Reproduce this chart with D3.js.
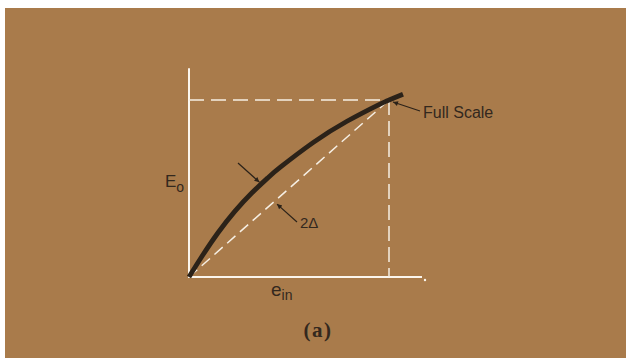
<!DOCTYPE html>
<html>
<head>
<meta charset="utf-8">
<script src="https://cdn.jsdelivr.net/npm/d3@7"></script>
<style>
    body { margin: 0; background: #fff; }
    svg { display: block; }
    .label { font-family: "Liberation Sans", Arial, sans-serif; fill: #33281e; }
</style>
</head>
<body>
<div id="chart"></div>
<script>
// Transfer curve (a): output E_o vs input e_in, full scale = 1
const curveX = [0, 0.065, 0.145, 0.23, 0.315, 0.395, 0.46, 0.62, 0.79, 0.955, 1.0, 1.07];
const curveY = [0, 0.117, 0.250, 0.372, 0.476, 0.561, 0.623, 0.759, 0.880, 0.977, 1.0, 1.032];

// ideal straight line and full-scale guides
const fullScale = [1, 1];
const axisMax = [1.165, 1.18];

// annotation arrows in data units (tail -> head)
const arrowNames = ['curve', 'delta', 'full'];
const arrowFrom = [[0.245, 0.644], [0.54, 0.311], [1.155, 0.938]];
const arrowTo = [[0.352, 0.536], [0.44, 0.412], [1.02, 0.989]];

const width = 626, height = 358;

const svg = d3.select('#chart')
    .append('svg')
    .attr('width', width)
    .attr('height', height);

// brown panel
svg.append('rect')
    .attr('x', 5)
    .attr('y', 8)
    .attr('width', width - 5)
    .attr('height', height - 8)
    .attr('fill', '#a97b4b');

const x = d3.scaleLinear().domain([0, 1]).range([189, 389]);
const y = d3.scaleLinear().domain([0, 1]).range([277, 100]);

svg.append('defs').append('marker')
    .attr('id', 'arrowhead')
    .attr('viewBox', '0 -5 10 10')
    .attr('refX', 10)
    .attr('refY', 0)
    .attr('orient', 'auto')
    .attr('markerWidth', 8)
    .attr('markerHeight', 5)
    .attr('markerUnits', 'userSpaceOnUse')
    .append('path')
    .attr('d', 'M 0,-5 L 10,0 L 0,5 Z')
    .attr('fill', '#2b2219');

// axes (plain white lines, no ticks)
svg.append('line')
    .attr('x1', x(0)).attr('y1', y(0))
    .attr('x2', x(0)).attr('y2', y(axisMax[1]))
    .attr('stroke', '#fbf6ee').attr('stroke-width', 2);
svg.append('line')
    .attr('x1', x(0) - 1).attr('y1', y(0))
    .attr('x2', x(axisMax[0])).attr('y2', y(0))
    .attr('stroke', '#fbf6ee').attr('stroke-width', 2);
svg.append('circle')
    .attr('cx', x(axisMax[0]) + 3).attr('cy', y(0) + 3)
    .attr('r', 1.2).attr('fill', '#fbf6ee');

// dashed guides
const dashColor = '#f6efe4';
svg.append('line')
    .attr('x1', x(0)).attr('y1', y(fullScale[1]))
    .attr('x2', x(fullScale[0])).attr('y2', y(fullScale[1]))
    .attr('stroke', dashColor).attr('stroke-width', 1.5)
    .attr('stroke-dasharray', '15,7');
svg.append('line')
    .attr('x1', x(fullScale[0])).attr('y1', y(fullScale[1]))
    .attr('x2', x(fullScale[0])).attr('y2', y(0))
    .attr('stroke', dashColor).attr('stroke-width', 1.5)
    .attr('stroke-dasharray', '15,6');
svg.append('line')
    .attr('x1', x(0)).attr('y1', y(0))
    .attr('x2', x(fullScale[0])).attr('y2', y(fullScale[1]))
    .attr('stroke', dashColor).attr('stroke-width', 1.5)
    .attr('stroke-dasharray', '11,6');

// the transfer curve
const points = curveX.map((v, i) => [v, curveY[i]]);
const line = d3.line()
    .x(d => x(d[0]))
    .y(d => y(d[1]))
    .curve(d3.curveNatural);

svg.append('path')
    .datum(points)
    .attr('d', line)
    .attr('fill', 'none')
    .attr('stroke', '#2b2219')
    .attr('stroke-width', 4.8)
    .attr('stroke-linecap', 'butt');

// annotation arrows
svg.append('g')
    .selectAll('line')
    .data(arrowNames)
    .enter()
    .append('line')
    .attr('x1', (d, i) => x(arrowFrom[i][0]))
    .attr('y1', (d, i) => y(arrowFrom[i][1]))
    .attr('x2', (d, i) => x(arrowTo[i][0]))
    .attr('y2', (d, i) => y(arrowTo[i][1]))
    .attr('stroke', '#2b2219')
    .attr('stroke-width', 1.2)
    .attr('marker-end', 'url(#arrowhead)');

// labels
svg.append('text')
    .attr('class', 'label')
    .attr('x', x(1.17)).attr('y', y(0.9))
    .attr('font-size', 16)
    .text('Full Scale');

svg.append('text')
    .attr('class', 'label')
    .attr('x', x(0.555)).attr('y', y(0.277))
    .attr('font-size', 15)
    .text('2Δ');

const eo = svg.append('text')
    .attr('class', 'label')
    .attr('x', x(-0.12)).attr('y', y(0.508))
    .attr('font-size', 17)
    .text('E');
eo.append('tspan')
    .attr('dy', 5)
    .attr('font-size', 14)
    .text('o');

const ein = svg.append('text')
    .attr('class', 'label')
    .attr('x', x(0.41)).attr('y', y(-0.107))
    .attr('font-size', 19)
    .text('e');
ein.append('tspan')
    .attr('dy', 4)
    .attr('font-size', 14)
    .text('in');

svg.append('text')
    .attr('x', 318).attr('y', 337)
    .attr('text-anchor', 'middle')
    .attr('font-family', '"Liberation Serif", "Times New Roman", serif')
    .attr('font-weight', 'bold')
    .attr('font-size', 21)
    .attr('letter-spacing', 1.5)
    .attr('fill', '#33281e')
    .text('(a)');
</script>
</body>
</html>
